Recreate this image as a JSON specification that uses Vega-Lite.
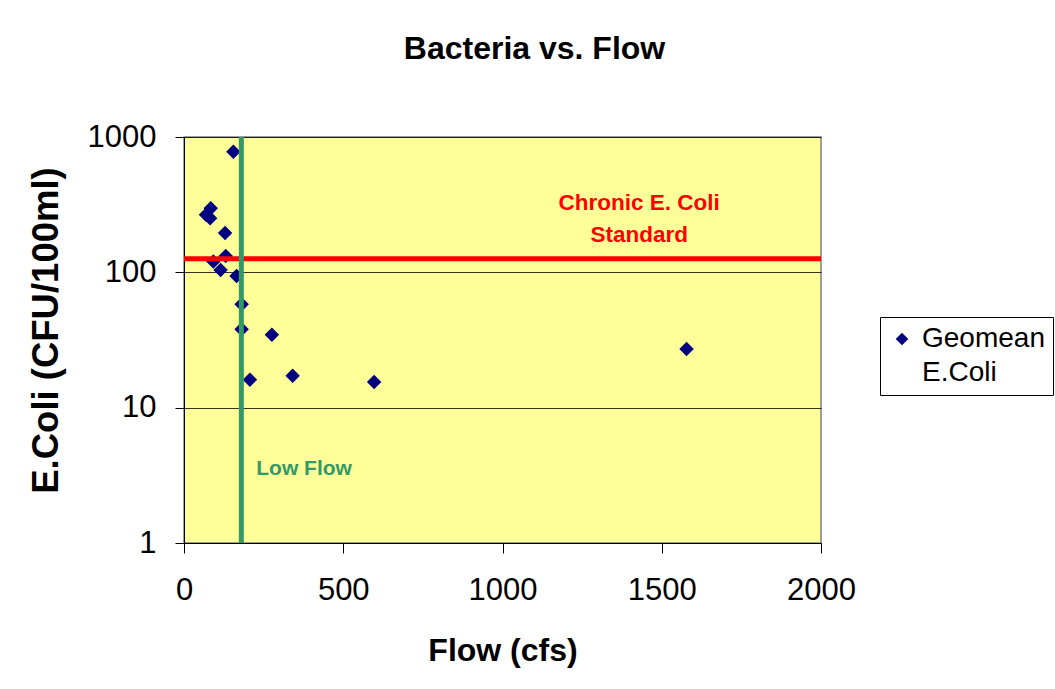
{
  "$schema": "https://vega.github.io/schema/vega-lite/v6.json",
  "autosize": "none",
  "width": 637,
  "height": 406,
  "padding": {"left": 184, "top": 137, "right": 234, "bottom": 146},
  "background": "white",
  "title": {
    "text": "Bacteria vs. Flow",
    "font": "Liberation Sans",
    "fontSize": 32,
    "fontWeight": "bold",
    "color": "black",
    "anchor": "middle",
    "frame": "group",
    "dx": 32,
    "baseline": "alphabetic",
    "offset": 30
  },
  "config": {
    "view": {"fill": "#FFFF99", "stroke": "#808080", "strokeWidth": 1.5},
    "font": "Liberation Sans",
    "style": {"guide-label": {"lineHeight": 34}},
    "axis": {
      "labelFont": "Liberation Sans",
      "titleFont": "Liberation Sans",
      "labelColor": "black",
      "titleColor": "black",
      "domainColor": "black",
      "tickColor": "black"
    }
  },
  "layer": [
    {
      "data": {"values": [
        {"flow": 155, "ecoli": 779},
        {"flow": 84, "ecoli": 298},
        {"flow": 69, "ecoli": 266},
        {"flow": 82, "ecoli": 251},
        {"flow": 129, "ecoli": 195},
        {"flow": 131, "ecoli": 132},
        {"flow": 92, "ecoli": 120},
        {"flow": 115, "ecoli": 104},
        {"flow": 165, "ecoli": 94},
        {"flow": 181, "ecoli": 58},
        {"flow": 181, "ecoli": 38},
        {"flow": 276, "ecoli": 34.6},
        {"flow": 207, "ecoli": 16.1},
        {"flow": 341, "ecoli": 17.2},
        {"flow": 597, "ecoli": 15.5},
        {"flow": 1578, "ecoli": 27.1}
      ]},
      "mark": {"type": "point", "shape": "diamond", "filled": true, "size": 210, "opacity": 1},
      "encoding": {
        "x": {
          "field": "flow", "type": "quantitative",
          "scale": {"domain": [0, 2000], "nice": false, "zero": false},
          "axis": {
            "values": [0, 500, 1000, 1500, 2000],
            "format": "d",
            "title": "Flow (cfs)",
            "grid": false,
            "labelFontSize": 31,
            "labelPadding": 22,
            "tickSize": 10,
            "labelFlush": false,
            "titleFontSize": 32,
            "titleFontWeight": "bold",
            "titleBaseline": "middle",
            "titleY": 107
          }
        },
        "y": {
          "field": "ecoli", "type": "quantitative",
          "scale": {"type": "log", "domain": [1, 1000], "nice": false},
          "axis": {
            "values": [1, 10, 100, 1000],
            "format": "d",
            "title": "E.Coli (CFU/100ml)",
            "grid": true,
            "gridColor": "black",
            "gridWidth": 1,
            "gridOpacity": 0.8,
            "labelFontSize": 31,
            "labelPadding": 19,
            "tickSize": 9,
            "labelFlush": false,
            "titleFontSize": 36.5,
            "titleFontWeight": "bold",
            "titleAngle": -90,
            "titleBaseline": "middle",
            "titleAlign": "center",
            "titleX": -138,
            "titleY": 193
          }
        },
        "color": {
          "datum": "Geomean E.Coli",
          "type": "nominal",
          "scale": {"range": ["#000080"]},
          "legend": {
            "title": null,
            "orient": "none",
            "legendX": 696,
            "legendY": 180,
            "strokeColor": "black",
            "fillColor": "white",
            "padding": 8,
            "symbolType": "diamond",
            "symbolSize": 160,
            "symbolOpacity": 1,
            "labelFontSize": 28,
            "labelFont": "Liberation Sans",
            "labelColor": "black",
            "labelLimit": 0,
            "labelOffset": 6,
            "labelExpr": "['Geomean', 'E.Coli']",
            "labelBaseline": "middle"
          }
        }
      }
    },
    {
      "data": {"values": [{"standard": 126}]},
      "mark": {"type": "rule", "color": "#FF0000", "strokeWidth": 5},
      "encoding": {"y": {"field": "standard", "type": "quantitative"}}
    },
    {
      "data": {"values": [{"lowflow": 180}]},
      "mark": {"type": "rule", "color": "#339966", "strokeWidth": 5},
      "encoding": {"x": {"field": "lowflow", "type": "quantitative"}}
    },
    {
      "data": {"values": [{"x": 1429, "y": 328, "label": "Chronic E. Coli\nStandard"}]},
      "mark": {"type": "text", "color": "#FF0000", "fontSize": 22.5, "fontWeight": "bold", "lineBreak": "\n", "lineHeight": 32, "align": "center", "baseline": "middle", "font": "Liberation Sans"},
      "encoding": {
        "x": {"field": "x", "type": "quantitative"},
        "y": {"field": "y", "type": "quantitative"},
        "text": {"field": "label"}
      }
    },
    {
      "data": {"values": [{"x": 377, "y": 3.5, "label": "Low Flow"}]},
      "mark": {"type": "text", "color": "#339966", "fontSize": 21, "fontWeight": "bold", "align": "center", "baseline": "middle", "font": "Liberation Sans"},
      "encoding": {
        "x": {"field": "x", "type": "quantitative"},
        "y": {"field": "y", "type": "quantitative"},
        "text": {"field": "label"}
      }
    }
  ]
}
